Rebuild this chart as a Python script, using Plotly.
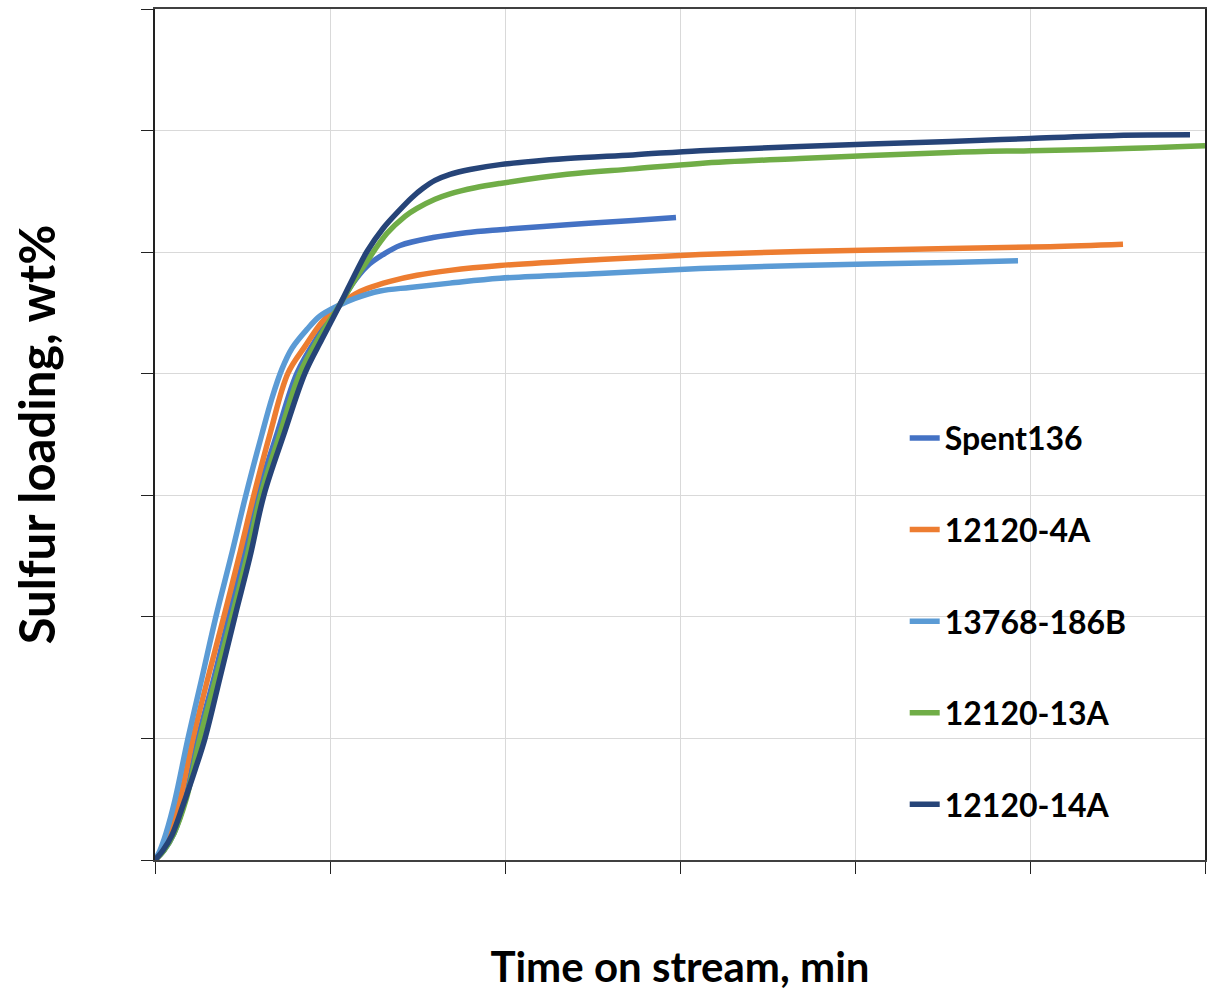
import plotly.graph_objects as go

# Sulfur uptake curves: time on stream (min) vs sulfur loading (wt%)
spent136_t = [0, 5.14, 10.86, 17.14, 24.57, 33.71, 42.29, 50.86, 58.86, 69.71, 81.14, 93.14, 105.71,
              112.57, 121.14, 130.29, 140.0, 158.86, 177.71, 197.14, 235.43, 273.14, 297.71]
spent136_s = [0, 0.16, 0.44, 0.99, 2.00, 3.00, 4.01, 4.99, 6.01, 7.01, 8.01, 8.62, 9.14,
              9.47, 9.77, 9.96, 10.11, 10.24, 10.32, 10.37, 10.45, 10.52, 10.57]

s4a_t = [0, 4.57, 8.57, 14.29, 21.71, 30.29, 39.43, 48.0, 56.57, 65.71, 76.0, 85.71, 95.43, 105.71,
         114.29, 121.14, 134.29, 149.71, 168.57, 197.14, 254.29, 311.43, 368.57, 454.29, 511.43, 553.14]
s4a_s = [0, 0.16, 0.44, 0.99, 2.00, 3.00, 4.01, 4.99, 6.01, 7.01, 8.01, 8.45, 8.85, 9.14,
         9.31, 9.40, 9.52, 9.62, 9.70, 9.78, 9.88, 9.96, 10.01, 10.06, 10.09, 10.13]

s186b_t = [0, 2.86, 6.29, 11.43, 18.86, 26.86, 34.86, 43.43, 52.0, 61.14, 66.86, 72.57, 78.29,
           86.86, 94.29, 104.0, 114.29, 128.57, 145.71, 168.57, 197.14, 254.29, 311.43, 368.57,
           454.29, 493.14]
s186b_s = [0, 0.16, 0.44, 0.99, 2.00, 3.00, 4.01, 4.99, 6.01, 7.01, 7.60, 8.08, 8.42,
           8.73, 8.95, 9.11, 9.24, 9.36, 9.42, 9.49, 9.57, 9.65, 9.73, 9.78,
           9.83, 9.86]

s13a_t = [0, 5.14, 10.86, 17.71, 25.71, 34.86, 44.0, 52.57, 60.57, 71.43, 82.86, 94.29, 105.71,
          114.29, 121.14, 132.57, 142.86, 149.71, 160.0, 168.57, 182.86, 197.14, 235.43, 273.14,
          311.43, 368.57, 454.29, 500.0, 549.71, 600.0]
s13a_s = [0, 0.16, 0.44, 0.99, 2.00, 3.00, 4.01, 4.99, 6.01, 7.01, 8.01, 8.62, 9.14,
          9.55, 9.85, 10.31, 10.59, 10.72, 10.87, 10.96, 11.06, 11.13, 11.28, 11.37,
          11.46, 11.54, 11.64, 11.67, 11.70, 11.75]

s14a_t = [0, 4.57, 9.71, 16.0, 22.86, 28.57, 37.14, 45.71, 54.29, 62.29, 73.71, 85.71, 95.43,
          105.71, 111.43, 121.14, 130.29, 140.0, 146.86, 153.14, 160.0, 168.57, 180.0, 197.14,
          235.43, 273.14, 311.43, 368.57, 454.29, 500.0, 549.71, 591.43]
s14a_s = [0, 0.16, 0.41, 0.90, 1.48, 2.00, 3.00, 4.01, 4.99, 6.01, 7.01, 8.01, 8.57,
          9.14, 9.47, 10.01, 10.39, 10.70, 10.90, 11.05, 11.18, 11.28, 11.36, 11.44,
          11.54, 11.60, 11.67, 11.74, 11.82, 11.87, 11.92, 11.93]

series = [
    ("Spent136", spent136_t, spent136_s, "#4472C4"),
    ("12120-4A", s4a_t, s4a_s, "#ED7D31"),
    ("13768-186B", s186b_t, s186b_s, "#5B9BD5"),
    ("12120-13A", s13a_t, s13a_s, "#70AD47"),
    ("12120-14A", s14a_t, s14a_s, "#264478"),
]

fig = go.Figure()
for i, (name, t, s, color) in enumerate(series):
    fig.add_trace(go.Scatter(
        x=t, y=s, name=name, mode="lines",
        line=dict(color=color, width=5.5, shape="spline", smoothing=1.0),
        legendgroup=f"g{i}",
    ))

fig.update_layout(
    width=1216, height=993,
    margin=dict(l=155, r=11, t=7, b=133),
    paper_bgcolor="white", plot_bgcolor="white",
    font=dict(family="Lato", color="black"),
    showlegend=True,
    legend=dict(
        x=0.714, y=0.528, xanchor="left", yanchor="top",
        bgcolor="rgba(0,0,0,0)",
        font=dict(size=32, family="Lato", weight="bold"),
        traceorder="grouped", tracegroupgap=47,
        itemwidth=30,
    ),
)

fig.update_xaxes(
    range=[0, 600], dtick=100, tick0=0,
    showticklabels=False, ticks="outside", ticklen=12, tickcolor="#222",
    showgrid=True, gridcolor="#D9D9D9", gridwidth=1,
    showline=True, linecolor="#404040", linewidth=2, mirror=True,
    zeroline=False,
    title=dict(text="Time on stream, min", font=dict(size=42, family="Lato", weight="bold"), standoff=80),
)
fig.update_yaxes(
    range=[0, 14], dtick=2, tick0=0,
    showticklabels=False, ticks="outside", ticklen=12, tickcolor="#222",
    showgrid=True, gridcolor="#D9D9D9", gridwidth=1,
    showline=True, linecolor="#222", linewidth=1.5, mirror=True,
    zeroline=False,
    title=dict(text="Sulfur loading, wt%", font=dict(size=49, family="Lato", weight="bold"), standoff=70),
)

fig.write_html("out.html")
